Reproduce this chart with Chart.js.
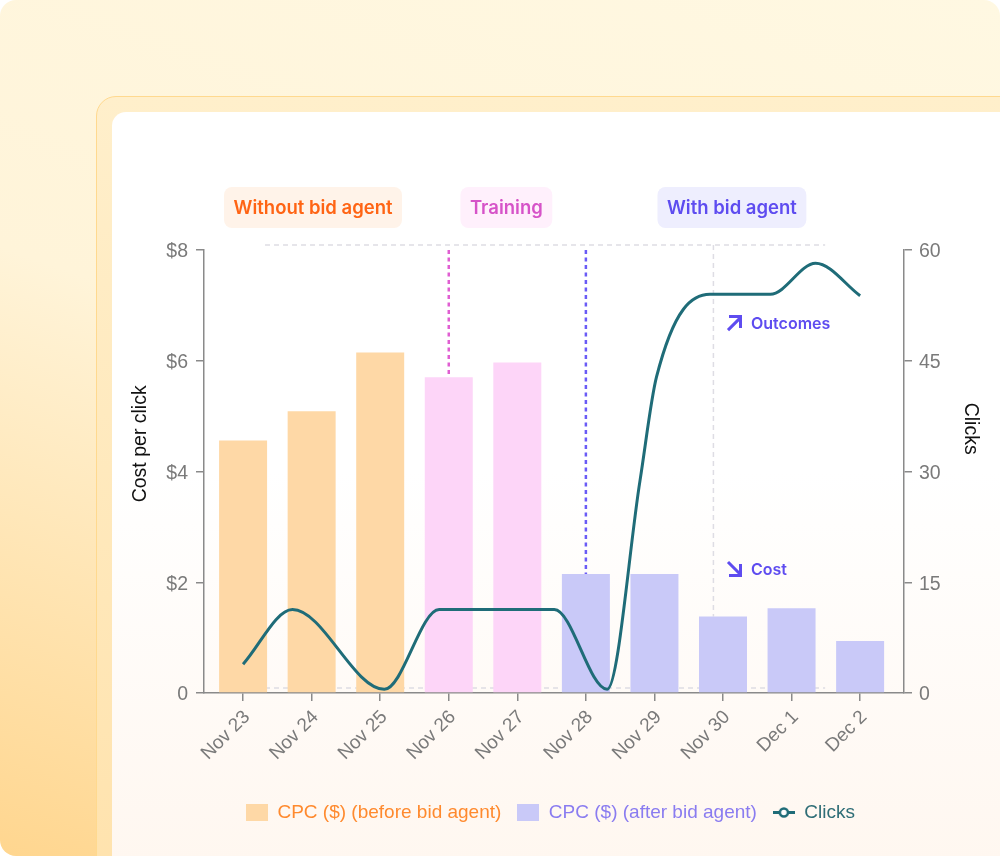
<!DOCTYPE html>
<html>
<head>
<meta charset="utf-8">
<script src="https://cdn.jsdelivr.net/npm/chart.js@4.4.1/dist/chart.umd.min.js"></script>
<style>
  html, body { margin: 0; padding: 0; background: #fff; }
  body { width: 1000px; height: 856px; overflow: hidden; position: relative; }
  .bg { position: absolute; inset: 0; border-radius: 16px;
        background: linear-gradient(200deg, #FFF8E2 0%, #FFF4D9 50%, #FFD68F 100%); }
  .frame { position: absolute; left: 96px; top: 96px; width: 960px; height: 820px; box-sizing: border-box;
           border: 1.5px solid #FFD98F; border-radius: 20px;
           background: linear-gradient(180deg, #FFEFCB 0%, #FFE2AC 100%); }
  .panel { position: absolute; left: 112px; top: 112px; width: 940px; height: 800px; border-radius: 14px;
           background: linear-gradient(180deg, #FFFFFF 0%, #FFFFFF 45%, #FFF6EE 100%); }
  .wrap { position: absolute; left: 112px; top: 112px; width: 888px; height: 744px; }
</style>
</head>
<body>
<div class="bg"></div>
<div class="frame"></div>
<div class="panel"></div>
<div class="wrap"><canvas id="cpcChart"></canvas></div>
<script>
// data
const days = ['Nov 23', 'Nov 24', 'Nov 25', 'Nov 26', 'Nov 27', 'Nov 28', 'Nov 29', 'Nov 30', 'Dec 1', 'Dec 2'];
const phaseOfDay = [0, 0, 0, 1, 1, 2, 2, 2, 2, 2];
const cpcBefore = [4.56, 5.09, 6.15, 5.70, 5.97, null, null, null, null, null];
const cpcAfter = [null, null, null, null, null, 2.15, 2.15, 1.38, 1.53, 0.94];
// clicks curve is sampled between days (position in days from Nov 23)
const clicksAt = [0, 0.72, 2.06, 2.86, 4.54, 5.31, 5.79, 6.03, 6.81, 7.69, 8.35, 9];
const clicks = [3.9, 11.3, 0.5, 11.3, 11.3, 0.5, 28.8, 42.8, 54, 54, 58.2, 53.8];
const phases = ['Without bid agent', 'Training', 'With bid agent'];

const barColors = ['#FED8A6', '#FDD5F8', '#C9C9F8'];
const phaseText = ['#FF6414', '#D653C8', '#5E4CF0'];
const phaseFill = ['#FFF3E9', '#FFF0FC', '#EEEEFE'];
const axisGray = '#8A8A8A';
const tickGray = '#7A7A7A';
const teal = '#1F6C78';

Chart.defaults.font.family = '"Liberation Sans", Arial, sans-serif';

function swatch(color) {
  const c = document.createElement('canvas');
  c.width = 22; c.height = 17;
  const g = c.getContext('2d');
  g.fillStyle = color;
  g.fillRect(0, 0, 22, 17);
  return c;
}
function lineIcon(color) {
  const c = document.createElement('canvas');
  c.width = 22; c.height = 17;
  const g = c.getContext('2d');
  g.strokeStyle = color; g.lineWidth = 3;
  g.beginPath(); g.moveTo(0, 8.5); g.lineTo(22, 8.5); g.stroke();
  g.fillStyle = '#fff'; g.lineWidth = 2.5;
  g.beginPath(); g.arc(11, 8.5, 4, 0, Math.PI * 2); g.fill(); g.stroke();
  return c;
}

function pill(ctx, cx, top, text, fill, color) {
  ctx.font = '600 18.5px Inter, sans-serif';
  const w = ctx.measureText(text).width + 19;
  const h = 41;
  ctx.fillStyle = fill;
  ctx.beginPath();
  ctx.roundRect(cx - w / 2, top, w, h, 8);
  ctx.fill();
  ctx.fillStyle = color;
  ctx.textAlign = 'center';
  ctx.textBaseline = 'middle';
  ctx.fillText(text, cx, top + h / 2 + 1);
}

function arrow(ctx, ax, cy, up) {
  ctx.strokeStyle = phaseText[2];
  ctx.lineWidth = 3;
  ctx.lineCap = 'butt';
  ctx.beginPath();
  if (up) {
    ctx.moveTo(ax + 2, cy + 7); ctx.lineTo(ax + 14, cy - 5);
    ctx.moveTo(ax + 3, cy - 6.5); ctx.lineTo(ax + 14.5, cy - 6.5); ctx.lineTo(ax + 14.5, cy + 5);
  } else {
    ctx.moveTo(ax + 2, cy - 7); ctx.lineTo(ax + 14, cy + 5);
    ctx.moveTo(ax + 14.5, cy - 5); ctx.lineTo(ax + 14.5, cy + 6.5); ctx.lineTo(ax + 3, cy + 6.5);
  }
  ctx.stroke();
}

function axisTitle(ctx, text, px, py, angle) {
  ctx.save();
  ctx.translate(px, py);
  ctx.rotate(angle);
  ctx.font = '19.5px "Liberation Sans", Arial, sans-serif';
  ctx.fillStyle = '#111';
  ctx.textAlign = 'center';
  ctx.textBaseline = 'middle';
  ctx.fillText(text, 0, 0);
  ctx.restore();
}

const overlay = {
  id: 'overlay',
  beforeDatasetsDraw(chart) {
    const { ctx, chartArea: a, scales: { x, y } } = chart;
    ctx.save();
    ctx.setLineDash([5, 4]);
    ctx.lineWidth = 1.5;
    ctx.strokeStyle = '#DEDDE4';
    ctx.beginPath();
    [a.top - 5, a.bottom - 5].forEach(py => {
      ctx.moveTo(x.getPixelForValue(0.32), py);
      ctx.lineTo(x.getPixelForValue(8.49), py);
    });
    ctx.moveTo(x.getPixelForValue(6.86), a.top - 5);
    ctx.lineTo(x.getPixelForValue(6.86), y.getPixelForValue(cpcAfter[7]));
    ctx.stroke();

    ctx.setLineDash([4, 3.5]);
    ctx.lineWidth = 2.5;
    ctx.strokeStyle = '#E05FD2';
    ctx.beginPath();
    ctx.moveTo(x.getPixelForValue(3), a.top);
    ctx.lineTo(x.getPixelForValue(3), y.getPixelForValue(cpcBefore[3]));
    ctx.stroke();
    ctx.strokeStyle = '#6A5BF6';
    ctx.beginPath();
    ctx.moveTo(x.getPixelForValue(5), a.top);
    ctx.lineTo(x.getPixelForValue(5), y.getPixelForValue(cpcAfter[5]));
    ctx.stroke();
    ctx.restore();
  },
  afterDraw(chart) {
    const { ctx, chartArea: a, scales: { x, y, y1 } } = chart;
    ctx.save();
    const pillAt = [1.02, 3.84, 7.13];
    phases.forEach((p, i) => pill(ctx, x.getPixelForValue(pillAt[i]), a.top - 63, p, phaseFill[i], phaseText[i]));

    axisTitle(ctx, 'Cost per click', y.left + 29, y.getPixelForValue(4.5), -Math.PI / 2);
    axisTitle(ctx, 'Clicks', y1.right - 19, y1.getPixelForValue(35.8), Math.PI / 2);

    const ax = x.getPixelForValue(7) + 3;
    const cyUp = y1.getPixelForValue(50.1);
    const cyDown = y.getPixelForValue(2.24);
    arrow(ctx, ax, cyUp, true);
    arrow(ctx, ax, cyDown, false);
    ctx.font = '600 16px Inter, sans-serif';
    ctx.fillStyle = phaseText[2];
    ctx.textAlign = 'left';
    ctx.textBaseline = 'middle';
    ctx.fillText('Outcomes', ax + 25, cyUp + 1);
    ctx.fillText('Cost', ax + 25, cyDown + 1);
    ctx.restore();
  }
};

const tickFont = { size: 19.5 };

new Chart(document.getElementById('cpcChart'), {
  type: 'bar',
  data: {
    datasets: [
      {
        label: 'CPC ($) (before bid agent)',
        data: cpcBefore.map((v, i) => ({ x: i, y: v })),
        backgroundColor: phaseOfDay.map(p => barColors[p]),
        yAxisID: 'y',
        grouped: false,
        barPercentage: 0.7,
        categoryPercentage: 1,
        order: 1
      },
      {
        label: 'CPC ($) (after bid agent)',
        data: cpcAfter.map((v, i) => ({ x: i, y: v })),
        backgroundColor: barColors[2],
        yAxisID: 'y',
        grouped: false,
        barPercentage: 0.7,
        categoryPercentage: 1,
        order: 1
      },
      {
        type: 'line',
        label: 'Clicks',
        data: clicksAt.map((d, i) => ({ x: d, y: clicks[i] })),
        borderColor: teal,
        borderWidth: 3,
        pointRadius: 0,
        cubicInterpolationMode: 'monotone',
        yAxisID: 'y1',
        order: 0
      }
    ]
  },
  options: {
    responsive: true,
    maintainAspectRatio: false,
    animation: false,
    layout: { padding: { top: 138, right: 11, bottom: 24, left: 0 } },
    plugins: {
      tooltip: { enabled: false },
      legend: {
        position: 'bottom',
        labels: {
          usePointStyle: true,
          pointStyleWidth: 22,
          boxHeight: 17,
          padding: 16,
          font: { size: 19 },
          generateLabels: () => [
            { text: 'CPC ($) (before bid agent)', fontColor: '#FF8A2E', pointStyle: swatch(barColors[0]), datasetIndex: 0, lineWidth: 0, strokeStyle: 'transparent', fillStyle: 'transparent' },
            { text: 'CPC ($) (after bid agent)', fontColor: '#8A7CF0', pointStyle: swatch(barColors[2]), datasetIndex: 1, lineWidth: 0, strokeStyle: 'transparent', fillStyle: 'transparent' },
            { text: 'Clicks', fontColor: '#2E6D76', pointStyle: lineIcon(teal), datasetIndex: 2, lineWidth: 0, strokeStyle: 'transparent', fillStyle: 'transparent' }
          ]
        }
      }
    },
    scales: {
      x: {
        type: 'linear',
        min: -0.57,
        max: 9.64,
        offset: false,
        afterBuildTicks: s => { s.ticks = days.map((d, i) => ({ value: i })); },
        afterFit: s => { s.height = 94; },
        ticks: {
          autoSkip: false,
          minRotation: 45,
          maxRotation: 45,
          padding: 5,
          labelOffset: 4,
          color: tickGray,
          font: { size: 19 },
          callback: v => days[v]
        },
        grid: { offset: false, drawOnChartArea: false, tickLength: 8, color: axisGray, lineWidth: 1.5 },
        border: { color: axisGray, width: 1.5 }
      },
      y: {
        position: 'left',
        min: 0,
        max: 8,
        afterFit: s => { s.width = 92; },
        ticks: { stepSize: 2, padding: 8, labelOffset: 2, color: tickGray, font: tickFont, callback: v => v === 0 ? '0' : '$' + v },
        grid: { drawOnChartArea: false, tickLength: 8, color: axisGray, lineWidth: 1.5 },
        border: { color: axisGray, width: 1.5 }
      },
      y1: {
        position: 'right',
        min: 0,
        max: 60,
        afterFit: s => { s.width = 85; },
        ticks: { stepSize: 15, padding: 7, labelOffset: 2, color: tickGray, font: tickFont },
        grid: { drawOnChartArea: false, tickLength: 8, color: axisGray, lineWidth: 1.5 },
        border: { color: axisGray, width: 1.5 }
      }
    }
  },
  plugins: [overlay]
});
</script>
</body>
</html>
